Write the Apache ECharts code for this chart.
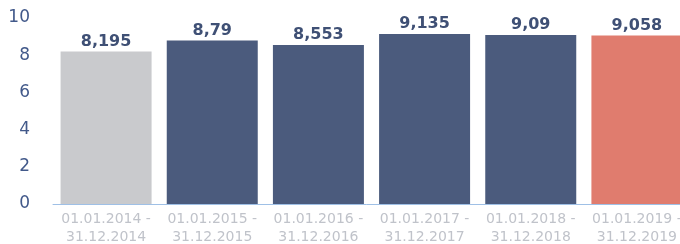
<!DOCTYPE html>
<html>
<head>
<meta charset="utf-8">
<script src="https://cdn.jsdelivr.net/npm/echarts@6/dist/echarts.min.js"></script>
<style>
html, body { margin: 0; padding: 0; background: #fff; overflow: hidden; }
#main { width: 680px; height: 244px; }
</style>
</head>
<body>
<div id="main"></div>
<script>
// periods and values
var periods = ['01.01.2014 -\n31.12.2014', '01.01.2015 -\n31.12.2015', '01.01.2016 -\n31.12.2016',
    '01.01.2017 -\n31.12.2017', '01.01.2018 -\n31.12.2018', '01.01.2019 -\n31.12.2019'];
var values = [8.195, 8.79, 8.553, 9.135, 9.09, 9.058];
var barColors = ['#c9cacd', '#4b5b7d', '#4b5b7d', '#4b5b7d', '#4b5b7d', '#e07c6e'];

var myChart = echarts.init(document.getElementById('main'));

var option = {
    animation: false,
    grid: {
        left: 53,
        top: 18,
        bottom: 40,
        width: 637,
        outerBoundsMode: 'none',
        containLabel: false
    },
    xAxis: {
        type: 'category',
        data: periods,
        axisTick: { show: false },
        axisLine: {
            lineStyle: { color: '#9fc0e6', width: 1 }
        },
        axisLabel: {
            color: '#c0c3ca',
            fontFamily: 'DejaVu Sans',
            fontSize: 14,
            lineHeight: 18,
            margin: 6,
            interval: 0
        }
    },
    yAxis: {
        type: 'value',
        min: 0,
        max: 10,
        interval: 2,
        splitLine: { show: false },
        axisLine: { show: false },
        axisTick: { show: false },
        axisLabel: {
            color: '#42598a',
            fontFamily: 'DejaVu Sans',
            fontSize: 17,
            margin: 23
        }
    },
    series: [
        {
            type: 'bar',
            barWidth: 91,
            data: values.map(function (v, i) {
                return { value: v, itemStyle: { color: barColors[i] } };
            }),
            label: {
                show: true,
                position: 'top',
                distance: 2,
                color: '#3f5075',
                fontFamily: 'DejaVu Sans',
                fontWeight: 'bold',
                fontSize: 16,
                formatter: function (p) {
                    return String(p.value).replace('.', ',');
                }
            }
        }
    ]
};

myChart.setOption(option);
</script>
</body>
</html>
